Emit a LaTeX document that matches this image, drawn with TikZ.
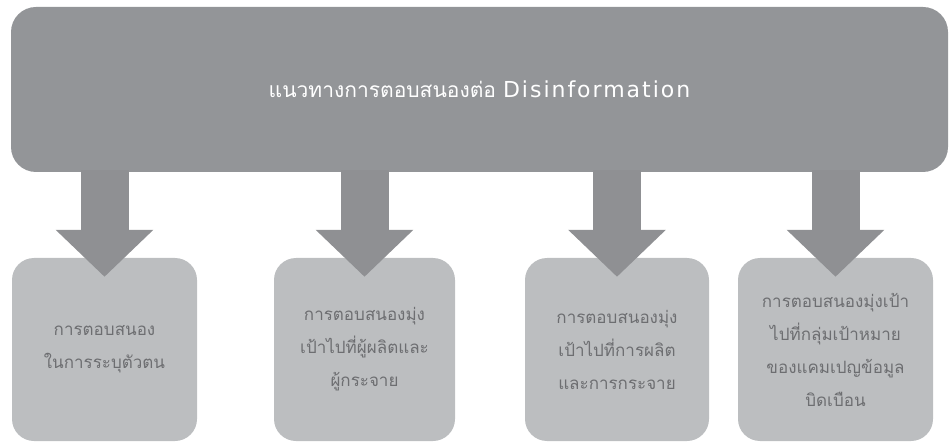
\documentclass[tikz,border=0pt]{standalone}
\usepackage{fontspec}
\usetikzlibrary{arrows.meta,positioning}
\newfontfamily\thaifont[Script=Thai]{Loma}
\newfontfamily\latinfont[LetterSpace=9]{DejaVu Sans}
\definecolor{headgray}{HTML}{939598}
\definecolor{arrowgray}{HTML}{8F9093}
\definecolor{boxgray}{HTML}{BCBEC0}
\definecolor{textgray}{HTML}{6D6E71}
\tikzset{
  headbox/.style={fill=headgray, rounded corners=25pt, minimum width=937pt,
    minimum height=165pt, text=white, inner sep=0pt,
    font=\thaifont\fontsize{21}{24}\selectfont},
  leafbox/.style={fill=boxgray, rounded corners=22pt, minimum height=183pt,
    text=textgray, align=center, inner sep=0pt,
    font=\thaifont\fontsize{17}{33}\selectfont},
  downarrow/.style={draw=arrowgray, line width=48pt,
    -{Triangle[width=95pt,length=47pt]}},
}
\begin{document}
\begin{tikzpicture}[x=1pt,y=-1pt]
	\useasboundingbox (0,0) rectangle (949,443);
	% heading
	\node[headbox] (head) at (479.5,89.5) {แนวทางการตอบสนองต่อ {\latinfont\fontsize{22}{24}\selectfont Disinformation}};
	% the four responses
	\node[leafbox, minimum width=185pt] (b1) at (104.5,349.5) {การตอบสนอง\\ในการระบุตัวตน};
	\node[leafbox, minimum width=181pt] (b2) at (364.5,349.5) {การตอบสนองมุ่ง\\เป้าไปที่ผู้ผลิตและ\\ผู้กระจาย};
	\node[leafbox, minimum width=184pt] (b3) at (617,349.5) {การตอบสนองมุ่ง\\เป้าไปที่การผลิต\\และการกระจาย};
	\node[leafbox, minimum width=195pt] (b4) at (835.5,349.5) {การตอบสนองมุ่งเป้า\\ไปที่กลุ่มเป้าหมาย\\ของแคมเปญข้อมูล\\บิดเบือน};
	% arrows
	\foreach \b in {b1,b2,b3,b4}
		\draw[downarrow] ([yshift=2pt]head.south -| \b.north) -- ([yshift=-19pt]\b.north);
\end{tikzpicture}
\end{document}
